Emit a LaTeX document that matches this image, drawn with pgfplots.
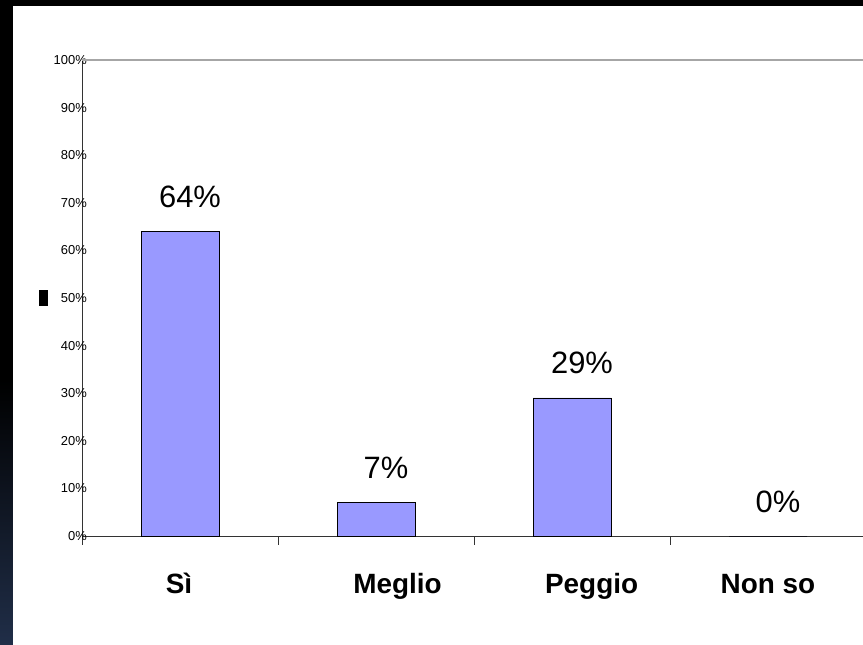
\documentclass[border=0pt]{standalone}
\usepackage{pgfplots}
\pgfplotsset{compat=1.18}
\usepackage{fontspec}
\setmainfont{Liberation Sans}

\definecolor{barfill}{RGB}{153,153,255}
\definecolor{stripnavy}{RGB}{32,46,72}
\definecolor{axisdark}{RGB}{51,51,51}

\begin{document}
\begin{tikzpicture}
  \useasboundingbox (0,0) rectangle (863bp,645bp);
  \clip (0,0) rectangle (863bp,645bp);
  % slide frame: black edge at top and left, fading to navy at the bottom
  \fill[black] (0,0) rectangle (863bp,645bp);
  \shade[top color=black, bottom color=stripnavy] (0,0) rectangle (13bp,265bp);
  \fill[white] (13bp,0) rectangle (863bp,639bp);

  \begin{axis}[
    at={(82bp,109bp)}, anchor=south west,
    scale only axis, width=784bp, height=476bp,
    xmin=0, xmax=4, ymin=0, ymax=100,
    enlarge x limits=false, enlarge y limits=false,
    clip=false,
    axis x line*=bottom, axis y line*=left,
    axis line style={draw=axisdark, line width=0.9bp, -},
    /pgf/number format/assume math mode=true,
    ytick={0,10,...,100},
    yticklabel={\pgfmathprintnumber{\tick}\%},
    yticklabel style={font=\fontsize{13}{14}\selectfont, anchor=east,
      inner sep=0pt, xshift=14bp},
    ytick style={draw=none},
    xtick={0,1,2,3,4},
    xticklabels={},
    tick align=outside,
    x tick style={draw=axisdark, line width=0.8bp},
    major tick length=9bp,
    extra x ticks={0.495,1.61,2.60,3.5},
    extra x tick labels={Sì,Meglio,Peggio,Non so},
    extra x tick style={major tick length=0pt,
      tick label style={font=\fontsize{28}{32}\selectfont\bfseries,
        anchor=base, yshift=-57bp, inner sep=0pt}},
    ybar, bar width=78bp,
    nodes near coords={\pgfmathprintnumber{\pgfplotspointmeta}\%},
    every node near coord/.append style={font=\fontsize{31}{34}\selectfont,
      anchor=base, yshift=24bp, xshift=10bp, inner sep=0pt},
  ]
    \addplot[fill=barfill, draw=black, line width=0.8bp]
      coordinates {(0.5,64) (1.5,7) (2.5,29) (3.5,0)};
    % light grey upper border of the plot area
    \draw[gray!70, line width=1.2bp] (rel axis cs:0,1) -- (rel axis cs:1,1);
  \end{axis}

  % small legend key left of the axis
  \fill[black] (39bp,339bp) rectangle (48bp,355bp);
\end{tikzpicture}
\end{document}
